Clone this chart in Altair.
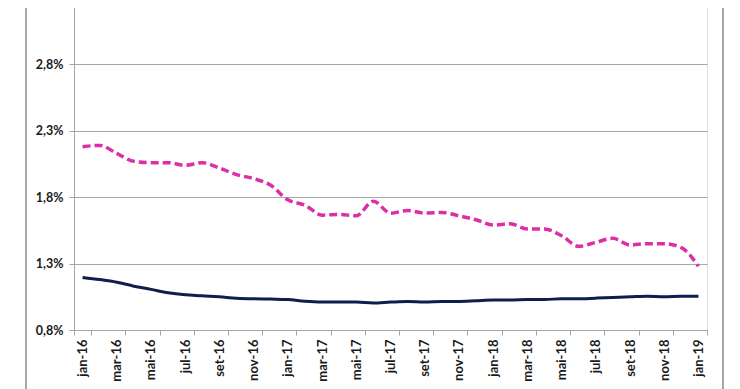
import altair as alt
import pandas as pd

months = ["jan-16","fev-16","mar-16","abr-16","mai-16","jun-16","jul-16","ago-16","set-16","out-16","nov-16","dez-16",
          "jan-17","fev-17","mar-17","abr-17","mai-17","jun-17","jul-17","ago-17","set-17","out-17","nov-17","dez-17",
          "jan-18","fev-18","mar-18","abr-18","mai-18","jun-18","jul-18","ago-18","set-18","out-18","nov-18","dez-18",
          "jan-19"]

pink_values = [2.18, 2.19, 2.13, 2.07, 2.06, 2.06, 2.04, 2.06, 2.02, 1.97, 1.94, 1.89,
               1.78, 1.74, 1.665, 1.67, 1.66, 1.77, 1.68, 1.70, 1.68, 1.685, 1.66, 1.63,
               1.59, 1.60, 1.56, 1.56, 1.51, 1.43, 1.46, 1.49, 1.44, 1.45, 1.45, 1.42,
               1.28]

navy_values = [1.196, 1.18, 1.16, 1.13, 1.106, 1.08, 1.065, 1.058, 1.05, 1.04, 1.035, 1.033,
               1.03, 1.016, 1.01, 1.01, 1.01, 1.003, 1.01, 1.015, 1.01, 1.015, 1.015, 1.02,
               1.025, 1.025, 1.03, 1.03, 1.035, 1.035, 1.04, 1.045, 1.05, 1.055, 1.05, 1.055,
               1.055]

y_ticks = [0.8, 1.3, 1.8, 2.3, 2.8, 3.3]
x_label_months = months[::2]

df = pd.DataFrame({"month": months, "pink": pink_values, "navy": navy_values})

FONT = "Lato"
GRID = "#a6a6a6"

x_enc = alt.X(
    "month:O",
    sort=months,
    bandPosition=0.5,
    scale=alt.Scale(type="band", paddingInner=0, paddingOuter=0),
    axis=alt.Axis(
        title=None,
        values=x_label_months,
        tickBand="extent",
        labelAngle=-90,
        labelAlign="right",
        labelBaseline="middle",
        labelFont=FONT,
        labelFontWeight="bold",
        labelFontSize=13,
        labelColor="#1a1a1a",
        labelPadding=4,
        tickSize=5,
        tickColor=GRID,
        domainColor=GRID,
        grid=False,
    ),
)

y_scale = alt.Scale(domain=[0.8, 3.3], nice=False, zero=False)
y_axis = alt.Axis(
    title=None,
    values=y_ticks,
    labelExpr="replace(format(datum.value, '.1f'), '.', ',') + '%'",
    labelFont=FONT,
    labelFontWeight="bold",
    labelFontSize=12.5,
    labelColor="#1a1a1a",
    labelPadding=6,
    tickSize=5,
    tickColor=GRID,
    domainColor=GRID,
    grid=True,
    gridColor=GRID,
    gridWidth=1,
)

navy = alt.Chart(df).mark_line(color="#0e1f4d", strokeWidth=3, interpolate="monotone").encode(
    x=x_enc,
    y=alt.Y("navy:Q", scale=y_scale, axis=y_axis),
)

pink = alt.Chart(df).mark_line(color="#dc2fa6", strokeWidth=3.5, strokeDash=[8, 4], interpolate="monotone").encode(
    x=x_enc,
    y=alt.Y("pink:Q", scale=y_scale),
)

border_left = alt.Chart(df).mark_rule(color="#a6a6a6", strokeWidth=1, clip=False).encode(
    x=alt.value(-48), y=alt.value(-20), y2=alt.value(420)
)
border_right = alt.Chart(df).mark_rule(color="#a6a6a6", strokeWidth=1, clip=False).encode(
    x=alt.value(649), y=alt.value(-20), y2=alt.value(420)
)

chart = alt.layer(navy, pink, border_left, border_right).properties(
    width=633,
    height=332,
    autosize=alt.AutoSizeParams(type="none"),
    padding={"left": 66, "top": -10, "right": 25, "bottom": 59},
).configure_view(stroke=None).configure(background="white")

chart.save("out.html", embed_options={"renderer": "svg", "actions": False})
